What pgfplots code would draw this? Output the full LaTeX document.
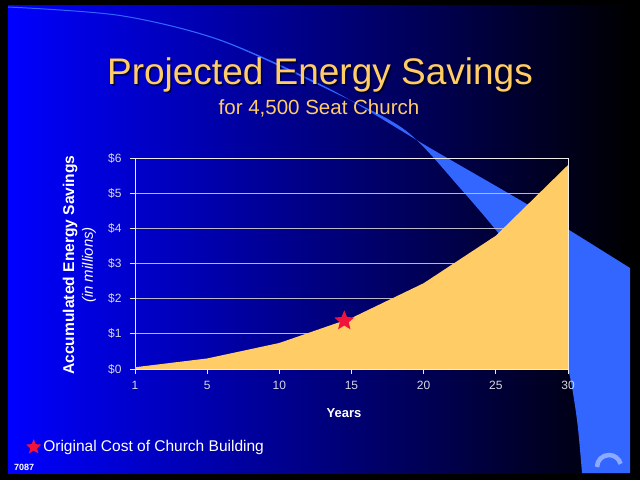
\documentclass[border=0pt]{standalone}
\usepackage{pgfplots}
\pgfplotsset{compat=1.18}
\usepackage{fontspec}
\setmainfont{Liberation Sans}

\definecolor{slideblue}{RGB}{0,0,255}
\definecolor{swoosh}{RGB}{51,102,255}
\definecolor{gold}{RGB}{255,204,102}
\definecolor{ticklbl}{RGB}{215,215,225}
\definecolor{gridc}{RGB}{185,185,200}
\definecolor{starred}{RGB}{240,20,60}
\definecolor{iconblue}{RGB}{140,170,255}

% filled five-point star
\pgfdeclareplotmark{fstar}{%
  \pgfpathmoveto{\pgfpointpolar{90}{\pgfplotmarksize}}%
  \pgfpathlineto{\pgfpointpolar{126}{0.45\pgfplotmarksize}}%
  \pgfpathlineto{\pgfpointpolar{162}{\pgfplotmarksize}}%
  \pgfpathlineto{\pgfpointpolar{198}{0.45\pgfplotmarksize}}%
  \pgfpathlineto{\pgfpointpolar{234}{\pgfplotmarksize}}%
  \pgfpathlineto{\pgfpointpolar{270}{0.45\pgfplotmarksize}}%
  \pgfpathlineto{\pgfpointpolar{306}{\pgfplotmarksize}}%
  \pgfpathlineto{\pgfpointpolar{342}{0.45\pgfplotmarksize}}%
  \pgfpathlineto{\pgfpointpolar{18}{\pgfplotmarksize}}%
  \pgfpathlineto{\pgfpointpolar{54}{0.45\pgfplotmarksize}}%
  \pgfpathclose\pgfusepathqfill}

\begin{document}
\begin{tikzpicture}[x=1pt,y=1pt]
% slide frame and background
\fill[black] (0,0) rectangle (640,480);
\shade[left color=slideblue, right color=black] (8,7) rectangle (632,474);
% swoosh
\fill[swoosh] plot[smooth, tension=0.5] coordinates {(8,473.5) (120,465) (220,440.5) (330,391) (430,332) (530,274) (630,212)}
  -- (630,7) -- (582,7)
  -- plot[smooth, tension=0.5] coordinates {(582,7) (577,60) (568,112) (550,170) (510,232) (460,292) (405,350) (330,389.5) (220,439.3) (120,464) (8,472.5)} -- cycle;
\draw[iconblue, line width=4.5pt] (597,13) arc[start angle=180, end angle=15, radius=12];

% titles
\node[anchor=base, text=black, opacity=0.6, font=\fontsize{37}{40}\selectfont] at (321.5,393.5) {Projected Energy Savings};
\node[anchor=base, text=gold, font=\fontsize{37}{40}\selectfont] at (320,395) {Projected Energy Savings};
\node[anchor=base, text=gold, font=\fontsize{20.5}{24}\selectfont] at (319,365) {for 4,500 Seat Church};

% axis descriptions
\node[rotate=90, text=white, font=\bfseries\fontsize{15.6}{18}\selectfont] at (70,215) {Accumulated Energy Savings};
\node[rotate=90, text=white, font=\itshape\fontsize{15}{18}\selectfont] at (89,215) {(in millions)};
\node[text=white, font=\bfseries\fontsize{13}{15}\selectfont] at (344,67) {Years};
\node[anchor=west, text=white, font=\bfseries\fontsize{9}{11}\selectfont, inner sep=0pt] at (14,13) {7087};

\begin{axis}[
    at={(135pt,111pt)}, anchor=south west,
    scale only axis, width=433pt, height=211pt,
    xmin=0, xmax=6, ymin=0, ymax=6,
    xtick={0,...,6},
    xticklabels={1,5,10,15,20,25,30},
    ytick={0,...,6},
    yticklabels={\$0,\$1,\$2,\$3,\$4,\$5,\$6},
    ymajorgrids,
    grid style={draw=gridc, line width=0.8pt},
    axis line style={draw=white!85!gray, line width=0.8pt},
    tick style={draw=white!85!gray, line width=0.8pt},
    tick align=outside, major tick length=5pt,
    xtick pos=lower, ytick pos=left,
    ticklabel style={font=\fontsize{12}{14}\selectfont, text=ticklbl},
    xticklabel style={yshift=-4pt},
    yticklabel style={xshift=-5pt},
    clip=false,
    legend style={at={(axis description cs:-0.252,-0.37)}, anchor=west,
      draw=none, fill=none, text=white, inner sep=0pt,
      font=\fontsize{15.5}{18}\selectfont},
    legend image code/.code={\draw[#1, mark size=8pt] plot coordinates {(6pt,0pt)};},
  ]
  \addplot[fill=gold, draw=none, forget plot] coordinates {
    (0,0.05) (1,0.30) (2,0.74) (3,1.45) (4,2.44) (5,3.79) (6,5.80)
  } \closedcycle;
  \draw[white!85!gray, line width=0.8pt] (axis cs:0,0) -- (axis cs:6,0) -- (axis cs:6,6);
  \addplot[only marks, mark=fstar, mark size=10.5pt, color=starred] coordinates {(2.9,1.37)};
  \addlegendentry{Original Cost of Church Building}
\end{axis}
\end{tikzpicture}
\end{document}
